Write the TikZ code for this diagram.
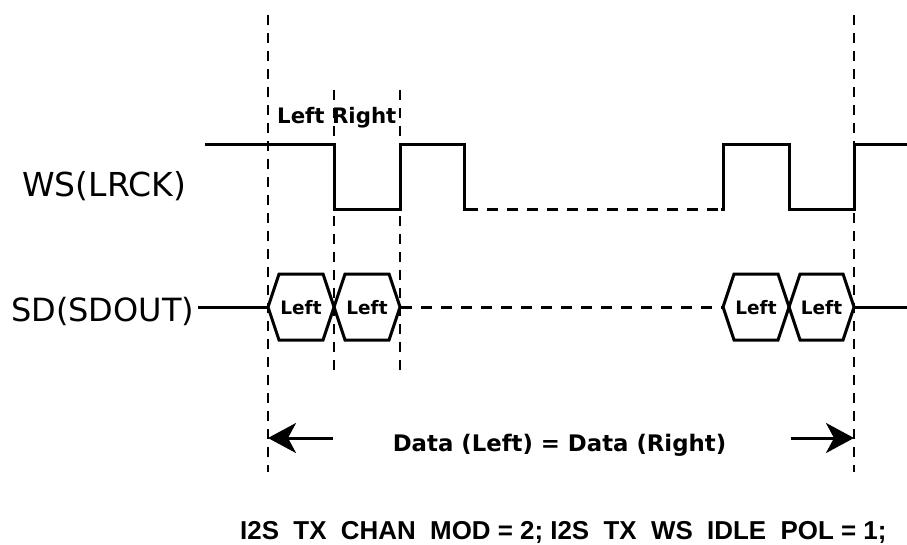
\documentclass[tikz,border=0pt]{standalone}
\usepackage{fontspec}
\newfontfamily\dvfont{DejaVu Sans}
\newfontfamily\arfont{Liberation Sans}
\usetikzlibrary{arrows.meta}
\newcommand\usgap{\hspace{0.556em}}
\begin{document}
\begin{tikzpicture}[x=1pt,y=-1pt,
  sig/.style={line width=3pt, line join=miter, line cap=butt},
  dsig/.style={line width=3pt, dash pattern=on 11pt off 9pt},
  guide/.style={line width=2.8pt, dash pattern=on 10pt off 8pt},
  siglabel/.style={font=\dvfont\fontsize{33}{38}\selectfont, inner sep=0pt, anchor=base west},
  toplabel/.style={font=\dvfont\bfseries\fontsize{21.3}{24}\selectfont, inner sep=0pt, anchor=base west},
  hexlabel/.style={font=\dvfont\bfseries\fontsize{18.5}{20}\selectfont, inner sep=0pt},
  datalabel/.style={font=\dvfont\bfseries\fontsize{22.8}{26}\selectfont, inner sep=0pt, anchor=base},
  cfglabel/.style={font=\arfont\bfseries\fontsize{25.9}{30}\selectfont, inner sep=0pt, anchor=base west},
  dataarrow/.style={line width=3pt, -{Stealth[length=28pt, width=30pt, inset=8pt]}}
]
\useasboundingbox (0,0) rectangle (907,544);

% vertical guide lines
\draw[guide] (268,15) -- (268,472);
\draw[guide] (854,15) -- (854,472);
\draw[guide] (334,90) -- (334,376);
\draw[guide] (400,90) -- (400,376);

% labels
\node[siglabel] (ws) at (22,196) {WS(LRCK)};
\node[siglabel, font=\dvfont\fontsize{32}{38}\selectfont] (sd) at (11,321) {SD(SDOUT)};
\node[toplabel] (lr) at (277,123) {Left Right};

% WS waveform
\draw[sig] (205,144) -- (334,144) -- (334,209) -- (400,209) -- (400,144)
  -- (464,144) -- (464,209) -- (467,209);
\draw[dsig] (467,209) -- (723,209);
\draw[sig] (721,209) -- (723,209) -- (723,144) -- (789,144) -- (789,209)
  -- (854,209) -- (854,144) -- (907,144);

% SD waveform
\draw[sig] (sd.east |- 0,307) ++(4,0) coordinate (sdstart) -- (268,307);
\foreach \a/\b/\n in {268/334/1, 334/400/2, 723/789/3, 789/854/4} {
  \draw[sig] (\a,307) -- ({\a+11},274) -- ({\b-11},274) -- (\b,307)
    -- ({\b-11},340) -- ({\a+11},340) -- cycle;
  \node[hexlabel] (hex\n) at ({(\a+\b)/2},307.5) {Left};
}
\draw[dsig] (401,307) -- (723,307);
\draw[sig] (854,307) -- (907,307);

% data span
\node[datalabel] (data) at (559.5,451) {Data (Left) = Data (Right)};
\coordinate (la) at (333,438);
\coordinate (lt) at (268,438);
\coordinate (ra) at (791,438);
\coordinate (rt) at (854,438);
\draw[dataarrow] (la) -- (lt);
\draw[dataarrow] (ra) -- (rt);

% configuration text
\node[cfglabel] (cfg) at (240,539) {I2S\usgap TX\usgap CHAN\usgap MOD = 2; I2S\usgap TX\usgap WS\usgap IDLE\usgap POL = 1;};
\end{tikzpicture}
\end{document}
